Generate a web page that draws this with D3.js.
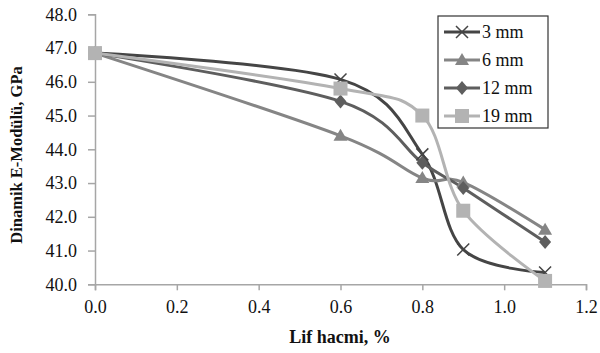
<!DOCTYPE html>
<html>
<head>
<meta charset="utf-8">
<script src="https://cdn.jsdelivr.net/npm/d3@7"></script>
<style>
body { margin: 0; background: #fff; }
text { font-family: "Liberation Serif", "Times New Roman", serif; fill: #111; }
</style>
</head>
<body>
<svg id="chart" width="600" height="353" viewBox="0 0 600 353"></svg>
<script>
// data
const xValues = [0.0, 0.6, 0.8, 0.9, 1.1]
const mm3 = [46.85, 46.07, 43.85, 41.03, 40.35]
const mm6 = [46.85, 44.4, 43.15, 43.02, 41.62]
const mm12 = [46.85, 45.42, 43.6, 42.85, 41.25]
const mm19 = [46.85, 45.8, 45.0, 42.18, 40.1]
const seriesNames = ["3 mm", "6 mm", "12 mm", "19 mm"]
const xTicks = [0, 0.2, 0.4, 0.6, 0.8, 1.0, 1.2]
const yTicks = [40, 41, 42, 43, 44, 45, 46, 47, 48]

const svg = d3.select("#chart")
const x = d3.scaleLinear().domain([0, 1.2]).range([95, 586])
const y = d3.scaleLinear().domain([40, 48]).range([284.3, 14.3])

const axisColor = "#a6a6a6"

// y axis
const yAxis = svg.append("g")
    .attr("transform", `translate(${x(0)},0)`)
    .call(d3.axisLeft(y).tickValues(yTicks).tickFormat(d3.format(".1f")).tickSize(7).tickPadding(11))
yAxis.select(".domain").attr("stroke", axisColor).attr("stroke-width", 1.5)
yAxis.selectAll("line").attr("stroke", axisColor).attr("stroke-width", 1.5)
yAxis.selectAll("text").style("font-size", "18px").attr("fill", "#111")

// x axis
const xAxis = svg.append("g")
    .attr("transform", `translate(0,${y(40)})`)
    .call(d3.axisBottom(x).tickValues(xTicks).tickFormat(d3.format(".1f")).tickSize(6).tickPadding(10))
xAxis.select(".domain").attr("stroke", axisColor).attr("stroke-width", 1.5)
xAxis.selectAll("line").attr("stroke", axisColor).attr("stroke-width", 1.5)
xAxis.selectAll("text").style("font-size", "18px").attr("fill", "#111")

// axis titles
svg.append("text")
    .attr("x", 340).attr("y", 343)
    .attr("text-anchor", "middle")
    .style("font-size", "18px").style("font-weight", "bold")
    .text("Lif hacmi, %")
svg.append("text")
    .attr("transform", "translate(22,155) rotate(-90)")
    .attr("text-anchor", "middle")
    .style("font-size", "16.5px").style("font-weight", "bold")
    .text("Dinamik E-Modülü, GPa")

const series = [
    {name: seriesNames[0], values: mm3, color: "#454545", marker: "cross"},
    {name: seriesNames[1], values: mm6, color: "#858585", marker: "triangle"},
    {name: seriesNames[2], values: mm12, color: "#5e5e5e", marker: "diamond"},
    {name: seriesNames[3], values: mm19, color: "#b3b3b3", marker: "square"}
]

const line = d3.line()
    .x(d => x(d[0]))
    .y(d => y(d[1]))
    .curve(d3.curveCardinal.tension(0))

function drawMarker(g, kind, color) {
    if (kind === "cross") {
        g.append("path").attr("d", "M-6,-6L6,6M-6,6L6,-6")
            .attr("stroke", color).attr("stroke-width", 1.5).attr("fill", "none")
    } else if (kind === "triangle") {
        g.append("path").attr("d", "M0,-7L7,5L-7,5Z").attr("fill", color)
    } else if (kind === "diamond") {
        g.append("path").attr("d", "M0,-7L6,0L0,7L-6,0Z").attr("fill", color)
    } else {
        g.append("rect").attr("x", -7).attr("y", -7).attr("width", 14).attr("height", 14).attr("fill", color)
    }
}

const plot = svg.append("g")
series.forEach(s => {
    const pts = xValues.map((xv, i) => [xv, s.values[i]])
    plot.append("path")
        .attr("d", line(pts))
        .attr("fill", "none")
        .attr("stroke", s.color)
        .attr("stroke-width", 3)
})
series.forEach(s => {
    xValues.forEach((xv, i) => {
        const g = plot.append("g").attr("transform", `translate(${x(xv)},${y(s.values[i])})`)
        drawMarker(g, s.marker, s.color)
    })
})

// legend
const legend = svg.append("g").attr("transform", "translate(438,16)")
legend.append("rect")
    .attr("width", 110).attr("height", 112)
    .attr("fill", "#fff").attr("stroke", "#333").attr("stroke-width", 1.2)
series.forEach((s, i) => {
    const row = legend.append("g").attr("transform", `translate(0,${16 + i * 28})`)
    row.append("line").attr("x1", 6).attr("x2", 42).attr("y1", 0).attr("y2", 0)
        .attr("stroke", s.color).attr("stroke-width", 3)
    drawMarker(row.append("g").attr("transform", "translate(24,0)"), s.marker, s.color)
    row.append("text").attr("x", 44).attr("y", 6)
        .style("font-size", "18px")
        .text(s.name)
})
</script>
</body>
</html>
